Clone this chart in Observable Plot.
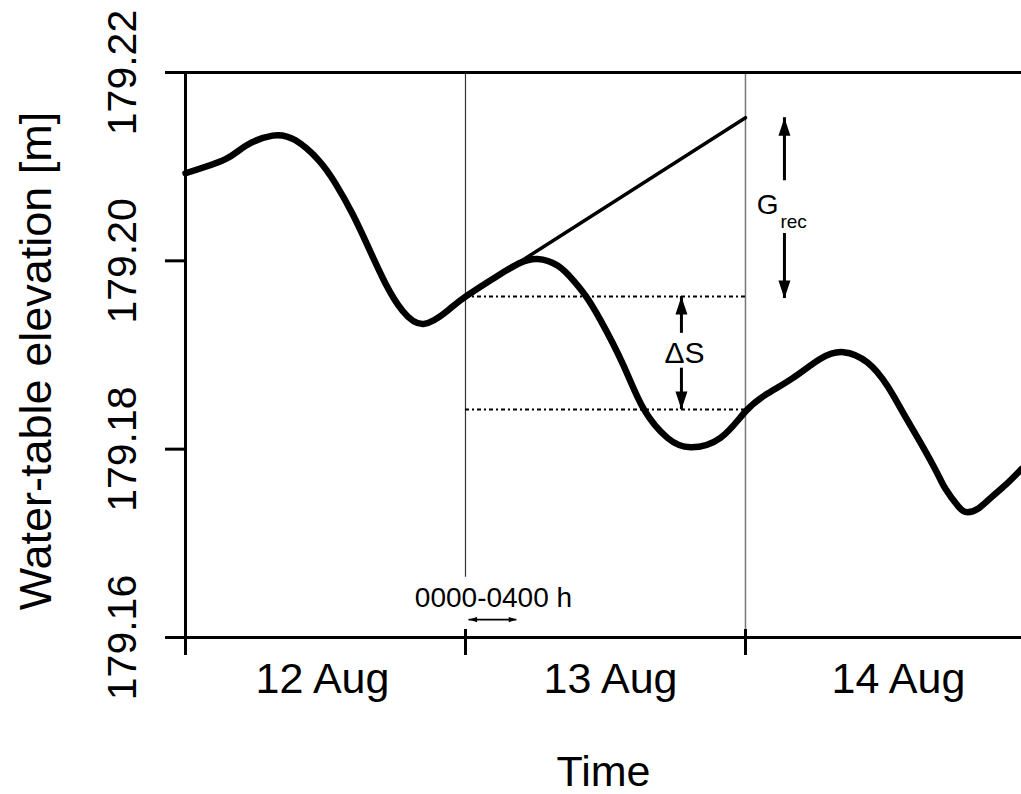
<!DOCTYPE html>
<html>
<head>
<meta charset="utf-8">
<script src="https://cdn.jsdelivr.net/npm/d3@7"></script>
<script src="https://cdn.jsdelivr.net/npm/@observablehq/plot@0.6"></script>
<style>
  body { margin: 0; background: #fff; }
</style>
</head>
<body>
<div id="chart"></div>
<script>
// Water-table hydrograph, hours since 12 Aug 00:00
const hours = [0, 3.43, 5.14, 7.46, 9.43, 11.4, 12.86, 14.31, 15.69, 17.14, 18.6, 20.4, 22.46,
  24, 26.74, 28.71, 30.17, 31.89, 33.26, 34.29, 35.57, 37.54, 39.26, 41.31, 43.29, 45.86,
  48, 49.89, 52.11, 54.43, 56.4, 58.46, 60.17, 61.54, 63, 64.46, 65.14, 66.26, 67.03, 67.97,
  69.0, 70.29, 71.66];
const elevation = [179.2093, 179.2108, 179.2122, 179.2133, 179.2128, 179.2107, 179.2082,
  179.2050, 179.2014, 179.1976, 179.1947, 179.1933, 179.1947, 179.1962, 179.1984, 179.1998,
  179.2002, 179.1995, 179.1979, 179.1963, 179.1937, 179.1889, 179.1843, 179.1812, 179.1802,
  179.1812, 179.1840, 179.1859, 179.1876, 179.1896, 179.1903, 179.1892, 179.1867, 179.1838,
  179.1807, 179.1774, 179.1758, 179.1739, 179.1733, 179.1737, 179.1748, 179.1762, 179.1779];

// Axes
const elevTicks = [179.16, 179.18, 179.20, 179.22];
const dayTicks = [0, 24, 48];
const dayLabels = ["12 Aug", "13 Aug", "14 Aug"];
const dayLabelHours = [11.74, 36.43, 61.11];
const xMax = 71.66;

// Extrapolated recession line (start of 13 Aug to start of 14 Aug)
const recessionHours = [24, 48];
const recessionElev = [179.1962, 179.2152];

// Storage change levels
const storageLevels = [179.1962, 179.1842];

// Annotation arrows: [x hour, shaft from, shaft to (tip)]
const deltaSArrows = [[42.51, 179.1923, 179.1962], [42.51, 179.1886, 179.1842]];
const gRecArrows = [[51.34, 179.2085, 179.2152], [51.34, 179.2029, 179.1960]];
const windowArrow = {z: 179.1619, h1: 24.3, h2: 28.4};

const curve = hours.map((h, i) => ({h, z: elevation[i]}));
const recession = recessionHours.map((h, i) => ({h, z: recessionElev[i]}));

// Filled arrowheads with the tip at the symbol origin
function head(dir) {
  return {
    draw(ctx, size) {
      const r = Math.sqrt(size / Math.PI);
      const L = r * 1.8, w = r * 0.6;
      const pts = {
        up: [[-w, L], [w, L]],
        down: [[-w, -L], [w, -L]],
        left: [[L, -w], [L, w]],
        right: [[-L, -w], [-L, w]]
      }[dir];
      ctx.moveTo(0, 0);
      ctx.lineTo(pts[0][0], pts[0][1]);
      ctx.lineTo(pts[1][0], pts[1][1]);
      ctx.closePath();
    }
  };
}

const shafts = [...deltaSArrows, ...gRecArrows].map(([h, a, b]) => ({h, a, b}));
const tips = [...deltaSArrows, ...gRecArrows].map(([h, a, b]) => ({h, z: b, up: b > a}));

const chart = Plot.plot({
  width: 1021,
  height: 794,
  marginLeft: 185,
  marginRight: 0,
  marginTop: 72,
  marginBottom: 157,
  x: {domain: [0, xMax], axis: null},
  y: {domain: [179.16, 179.22], axis: null},
  style: {fontFamily: "'Liberation Sans', Arial, Helvetica, sans-serif", background: "white", overflow: "visible", color: "black"},
  marks: [
    // day boundaries
    Plot.ruleX([24], {y1: 179.22, y2: 179.1664, stroke: "#333", strokeWidth: 1.2}),
    Plot.ruleX([48], {y1: 179.22, y2: 179.16, stroke: "#777", strokeWidth: 1.5}),
    // storage change levels
    Plot.ruleY(storageLevels, {x1: 24, x2: 48, stroke: "black", strokeWidth: 2, strokeDasharray: "4,3,2,3"}),
    // frame: top and bottom lines, y ticks, left axis, x ticks
    Plot.ruleY([179.16, 179.22], {insetLeft: -20, stroke: "black", strokeWidth: 3}),
    Plot.ruleY([179.18, 179.20], {x1: 0, x2: 0, insetLeft: -20, stroke: "black", strokeWidth: 3}),
    Plot.ruleX([0], {y1: 179.22, y2: 179.16, insetBottom: -18, stroke: "black", strokeWidth: 3}),
    Plot.ruleX(dayTicks.slice(1), {y1: 179.16, y2: 179.16, insetTop: -8, insetBottom: -18, stroke: "black", strokeWidth: 3}),
    // recession line and hydrograph
    Plot.line(recession, {x: "h", y: "z", stroke: "black", strokeWidth: 3.5}),
    Plot.line(curve, {x: "h", y: "z", stroke: "black", strokeWidth: 6.5, curve: "natural", strokeLinecap: "round", strokeLinejoin: "round"}),
    // annotation arrows
    Plot.ruleX(shafts, {x: "h", y1: "a", y2: "b", stroke: "black", strokeWidth: 3}),
    Plot.dot(tips.filter(d => d.up), {x: "h", y: "z", symbol: head("up"), r: 10, fill: "black"}),
    Plot.dot(tips.filter(d => !d.up), {x: "h", y: "z", symbol: head("down"), r: 10, fill: "black"}),
    Plot.ruleY([windowArrow], {y: "z", x1: "h1", x2: "h2", stroke: "black", strokeWidth: 1.6}),
    Plot.dot([windowArrow], {x: "h1", y: "z", symbol: head("left"), r: 4.5, fill: "black"}),
    Plot.dot([windowArrow], {x: "h2", y: "z", symbol: head("right"), r: 4.5, fill: "black"}),
    // annotation text
    Plot.text(["0000-0400 h"], {x: 26.4, y: 179.1632, lineAnchor: "bottom", fontSize: 28, fill: "black"}),
    Plot.text(["\u0394S"], {x: 42.77, y: 179.1892, lineAnchor: "bottom", fontSize: 30, fill: "black"}),
    Plot.text(["G"], {x: 49.89, y: 179.2050, lineAnchor: "bottom", fontSize: 28, fill: "black"}),
    Plot.text(["rec"], {x: 51.0, y: 179.2035, lineAnchor: "bottom", textAnchor: "start", fontSize: 19, fill: "black"}),
    // tick labels
    Plot.text(elevTicks, {y: d => d, text: d => d.toFixed(2), frameAnchor: "left", dx: -50, rotate: -90, textAnchor: "middle", lineAnchor: "bottom", fontSize: 41, fill: "black"}),
    Plot.text(dayLabels, {x: (d, i) => dayLabelHours[i], text: d => d, frameAnchor: "bottom", dy: 55, lineAnchor: "bottom", fontSize: 43, fill: "black"}),
    // axis titles
    Plot.text(["Water-table elevation [m]"], {frameAnchor: "left", dx: -135, dy: 6, rotate: -90, textAnchor: "middle", lineAnchor: "bottom", fontSize: 45, fill: "black"}),
    Plot.text(["Time"], {frameAnchor: "bottom", dy: 148, lineAnchor: "bottom", fontSize: 43, fill: "black"})
  ]
});

document.getElementById("chart").appendChild(chart);
</script>
</body>
</html>
